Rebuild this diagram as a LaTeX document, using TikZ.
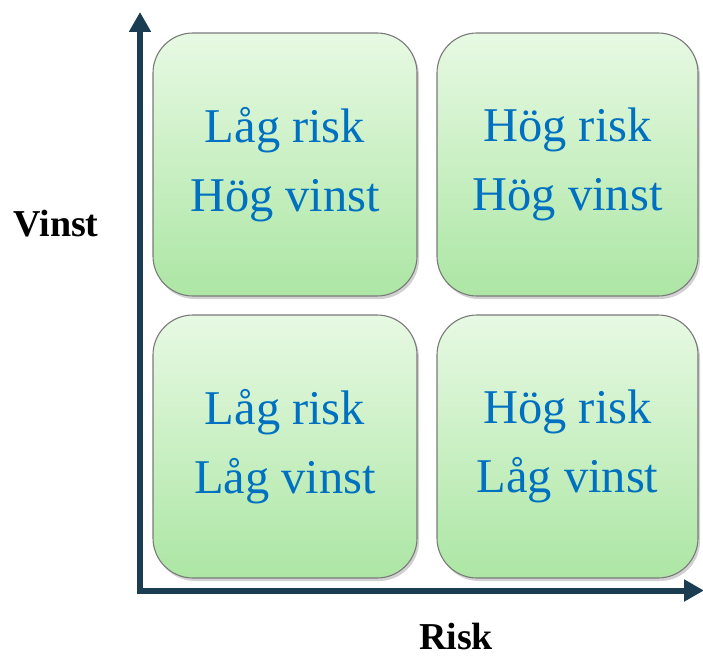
\documentclass[tikz,border=0pt]{standalone}
\usepackage{fontspec}
\setmainfont{Liberation Serif}
\usetikzlibrary{arrows.meta,shadows}
\definecolor{axisblue}{RGB}{26,61,82}
\definecolor{cellborder}{RGB}{122,122,122}
\definecolor{celltop}{RGB}{231,249,227}
\definecolor{cellbottom}{RGB}{172,230,164}
\definecolor{celltext}{RGB}{0,112,192}
\tikzset{
  cell/.style={rounded corners=40pt, draw=cellborder, line width=1.1pt,
    top color=celltop, bottom color=cellbottom,
    drop shadow={shadow xshift=2pt, shadow yshift=-3pt, opacity=0.3, fill=black!60},
    align=center, text=celltext, inner sep=0pt,
    font=\fontsize{48.5}{69}\selectfont},
  axis/.style={draw=axisblue, line width=6pt, line join=miter,
    {Triangle[length=20pt,width=21pt]}-{Triangle[length=20pt,width=21pt]}},
  axislabel/.style={font=\bfseries\fontsize{38}{42}\selectfont, inner sep=0pt}
}
\begin{document}
\begin{tikzpicture}[x=1pt,y=-1pt]
\useasboundingbox (0,0) rectangle (703,658);

% four quadrants
\node[cell, minimum width=264pt, minimum height=263pt] (lowhigh) at (285,164.5) {Låg risk\\Hög vinst};
\node[cell, minimum width=261pt, minimum height=263pt] (highhigh) at (567.5,164.5) {Hög risk\\Hög vinst};
\node[cell, minimum width=264pt, minimum height=263pt] (lowlow) at (285,446.5) {Låg risk\\Låg vinst};
\node[cell, minimum width=261pt, minimum height=263pt] (highlow) at (567.5,446.5) {Hög risk\\Låg vinst};

% axes
\coordinate (origin) at (140,590.5);
\coordinate (ytip) at (140,12);
\coordinate (xtip) at (704,590.5);
\draw[axis] (ytip) -- (origin) -- (xtip);

% axis labels
\node[axislabel] (vinst) at (56,224) {Vinst};
\node[axislabel] (risk) at (456,636) {Risk};
\end{tikzpicture}
\end{document}
